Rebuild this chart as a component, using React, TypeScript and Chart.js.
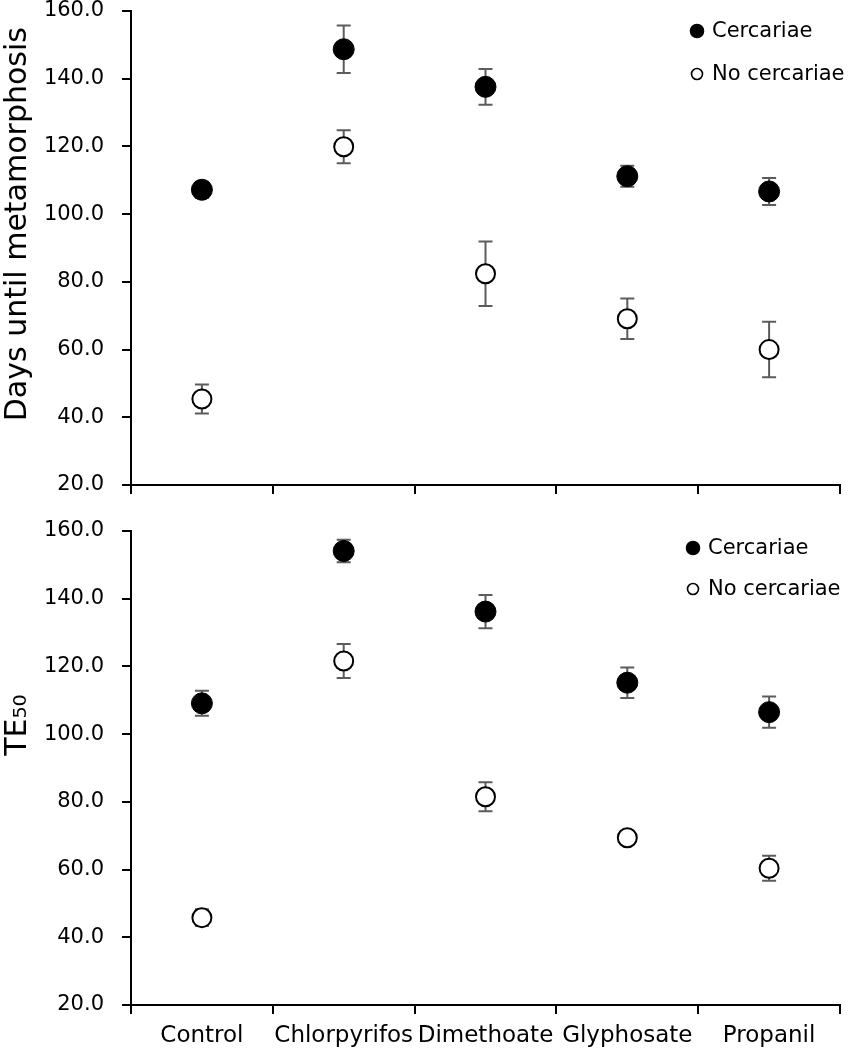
import React, { useEffect, useRef } from 'react';
import { Chart, registerables } from 'chart.js';

Chart.register(...registerables);

// ---------------- data ----------------
const categories = ['Control', 'Chlorpyrifos', 'Dimethoate', 'Glyphosate', 'Propanil'];
const seriesNames = ['Cercariae', 'No cercariae'];

const daysCercariae = [107.2, 148.7, 137.6, 111.2, 106.7];
const daysCercariaeErr = [2.4, 7.0, 5.3, 3.1, 4.0];
const daysNoCercariae = [45.4, 119.9, 82.4, 69.1, 60.0];
const daysNoCercariaeErr = [4.3, 4.9, 9.5, 6.0, 8.2];

const te50Cercariae = [109.1, 154.1, 136.2, 115.2, 106.5];
const te50CercariaeErr = [3.7, 3.3, 4.9, 4.5, 4.6];
const te50NoCercariae = [45.8, 121.6, 81.5, 69.4, 60.4];
const te50NoCercariaeErr = [2.5, 5.0, 4.3, 1.5, 3.7];

const yMin = 20;
const yMax = 160;
const yStep = 20;

const topTitle = '     Days until metamorphosis';
const bottomTitle = '         TE\u2085\u2080';

// ---------------- plugins ----------------
const errorBarPlugin = {
  id: 'errorBars',
  beforeDatasetsDraw(chart: any) {
    const ctx = chart.ctx;
    const yScale = chart.scales.y;
    chart.data.datasets.forEach((ds: any, i: number) => {
      const meta = chart.getDatasetMeta(i);
      meta.data.forEach((pt: any, j: number) => {
        const v = ds.data[j];
        const e = ds.errors[j];
        const x = pt.x;
        const top = yScale.getPixelForValue(v + e);
        const bot = yScale.getPixelForValue(v - e);
        ctx.save();
        ctx.strokeStyle = '#5c5c5c';
        ctx.lineWidth = 2;
        ctx.beginPath();
        ctx.moveTo(x, top);
        ctx.lineTo(x, bot);
        ctx.moveTo(x - 7, top);
        ctx.lineTo(x + 7, top);
        ctx.moveTo(x - 7, bot);
        ctx.lineTo(x + 7, bot);
        ctx.stroke();
        ctx.restore();
      });
    });
  },
};

const pointLegendPlugin = {
  id: 'pointLegend',
  afterDraw(chart: any, _args: any, opts: any) {
    const ctx = chart.ctx;
    chart.data.datasets.forEach((ds: any, i: number) => {
      const y = opts.ys[i];
      ctx.save();
      ctx.beginPath();
      ctx.arc(opts.x, y, i === 0 ? 6.5 : 5.5, 0, Math.PI * 2);
      ctx.fillStyle = ds.pointBackgroundColor;
      ctx.fill();
      ctx.lineWidth = 1.6;
      ctx.strokeStyle = '#000';
      ctx.stroke();
      ctx.fillStyle = '#000';
      ctx.font = '21px "DejaVu Sans"';
      ctx.textBaseline = 'middle';
      ctx.textAlign = 'left';
      ctx.fillText(ds.label, opts.textX, y + 1);
      ctx.restore();
    });
  },
};

function makeConfig(
  cerc: number[],
  cercErr: number[],
  noCerc: number[],
  noCercErr: number[],
  title: string,
  showXLabels: boolean,
  xHeight: number,
  padTop: number,
  legend: { x: number; textX: number; ys: number[] }
): any {
  return {
    type: 'line',
    data: {
      labels: categories,
      datasets: [
        {
          label: seriesNames[0],
          data: cerc,
          errors: cercErr,
          showLine: false,
          pointRadius: 10.5,
          pointHoverRadius: 10.5,
          pointBorderWidth: 1,
          pointBorderColor: '#000',
          pointBackgroundColor: '#000',
          borderColor: '#000',
          backgroundColor: '#000',
        },
        {
          label: seriesNames[1],
          data: noCerc,
          errors: noCercErr,
          showLine: false,
          pointRadius: 9.5,
          pointHoverRadius: 9.5,
          pointBorderWidth: 2,
          pointBorderColor: '#000',
          pointBackgroundColor: '#fff',
          borderColor: '#000',
          backgroundColor: '#fff',
        },
      ],
    },
    options: {
      responsive: false,
      animation: false,
      devicePixelRatio: 1,
      layout: { autoPadding: false, padding: { top: padTop, right: 10, left: 0, bottom: 0 } },
      plugins: {
        legend: { display: false },
        tooltip: { enabled: false },
        pointLegend: legend,
      },
      scales: {
        x: {
          type: 'category',
          offset: true,
          grid: {
            offset: true,
            drawOnChartArea: false,
            drawTicks: true,
            tickLength: 9,
            color: '#000',
            lineWidth: 2,
          },
          border: { color: '#000', width: 2 },
          ticks: {
            display: showXLabels,
            font: { family: 'DejaVu Sans', size: 23 },
            color: '#000',
            padding: 8,
            autoSkip: false,
            maxRotation: 0,
            minRotation: 0,
          },
          afterFit: (s: any) => {
            s.height = xHeight;
          },
        },
        y: {
          min: yMin,
          max: yMax,
          ticks: {
            stepSize: yStep,
            callback: (v: any) => Number(v).toFixed(1),
            font: { family: 'DejaVu Sans', size: 21 },
            color: '#000',
            padding: 18,
          },
          grid: {
            drawOnChartArea: false,
            drawTicks: true,
            tickLength: 9,
            color: '#000',
            lineWidth: 2,
          },
          border: { color: '#000', width: 2 },
          title: {
            display: true,
            text: title,
            color: '#000',
            font: { family: 'DejaVu Sans', size: 30 },
            padding: { top: 0, bottom: 0 },
          },
          afterFit: (s: any) => {
            s.width = 131;
            s.paddingTop = 0;
            s.paddingBottom = 0;
          },
        },
      },
    },
    plugins: [errorBarPlugin, pointLegendPlugin],
  };
}

function ChartCanvas({ config, width, height }: { config: () => any; width: number; height: number }) {
  const ref = useRef<HTMLCanvasElement | null>(null);
  useEffect(() => {
    if (!ref.current) return;
    const chart = new Chart(ref.current, config());
    return () => chart.destroy();
  }, []);
  return <canvas ref={ref} width={width} height={height} style={{ display: 'block', width, height }} />;
}

export default function App() {
  return (
    <div
      style={{
        position: 'fixed',
        left: 0,
        top: 0,
        width: 850,
        height: 1050,
        overflow: 'hidden',
        background: '#fff',
      }}
    >
      <ChartCanvas
        width={850}
        height={505}
        config={() =>
          makeConfig(daysCercariae, daysCercariaeErr, daysNoCercariae, daysNoCercariaeErr, topTitle, false, 20, 11, {
            x: 697,
            textX: 712,
            ys: [31, 74],
          })
        }
      />
      <ChartCanvas
        width={850}
        height={545}
        config={() =>
          makeConfig(te50Cercariae, te50CercariaeErr, te50NoCercariae, te50NoCercariaeErr, bottomTitle, true, 45, 26, {
            x: 693,
            textX: 708,
            ys: [43, 84],
          })
        }
      />
    </div>
  );
}
